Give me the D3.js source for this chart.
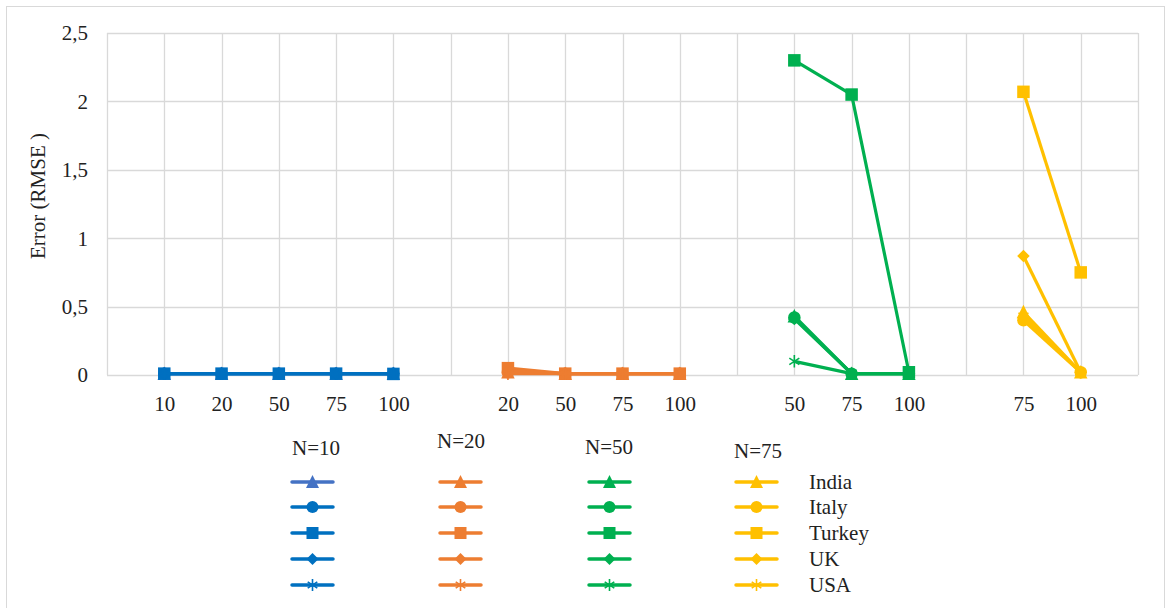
<!DOCTYPE html>
<html><head><meta charset="utf-8">
<script src="https://cdn.jsdelivr.net/npm/d3@7"></script>
<style>body{margin:0;background:#fff}svg{display:block}
svg text{font-family:"Liberation Serif","Times New Roman",Times,Tinos,"Nimbus Roman","DejaVu Serif",serif !important;fill:#222}</style>
</head><body><svg id="c" width="1171" height="608"></svg>
<script>
// category axis (blank entries separate the groups)
const categories = ["", "10","20","50","75","100","", "20","50","75","100","", "50","75","100","", "75","100",""];
const yTicks = [0, 0.5, 1, 1.5, 2, 2.5];
const yTickLabels = ["0","0,5","1","1,5","2","2,5"];
const groups = ["N=10","N=20","N=50","N=75"];
const groupStart = [1, 7, 12, 16];
const countries = ["India","Italy","Turkey","UK","USA"];
const colors = ["#0070C0","#ED7D31","#00B050","#FFC000"];
const indiaN10Color = "#4472C4";
const shapes = ["triangle","circle","square","diamond","asterisk"];

// values per country for each N group, one per x point of the group
const n10 = {India:[0.01,0.01,0.01,0.01,0.01], Italy:[0.01,0.01,0.01,0.01,0.01], Turkey:[0.01,0.01,0.01,0.01,0.008], UK:[0.01,0.01,0.01,0.01,0.01], USA:[0.01,0.01,0.01,0.01,0.01]};
const n20 = {India:[0.02,0.01,0.01,0.01], Italy:[0.02,0.01,0.01,0.01], Turkey:[0.05,0.01,0.01,0.01], UK:[0.03,0.01,0.01,0.01], USA:[0.01,0.01,0.01,0.01]};
const n50 = {India:[0.43,0.01,0.01], Italy:[0.42,0.01,0.01], Turkey:[2.30,2.05,0.02], UK:[0.41,0.01,0.01], USA:[0.10,0.01,0.01]};
const n75 = {India:[0.46,0.02], Italy:[0.40,0.02], Turkey:[2.07,0.75], UK:[0.87,0.02], USA:[0.43,0.02]};
const groupData = [n10, n20, n50, n75];

const FONT = '"Liberation Serif","Times New Roman",Times,serif';
const svg = d3.select("#c");
svg.append("rect").attr("x",6.5).attr("y",6.5).attr("width",1158).attr("height",620)
  .attr("fill","#fff").attr("stroke","#d9d9d9").attr("stroke-width",1);

const x = d3.scalePoint().domain(d3.range(categories.length)).range([107, 1138]);
const y = d3.scaleLinear().domain([0, 2.5]).range([375, 33]);

// gridlines
const grid = svg.append("g");
grid.selectAll("line.h").data(yTicks).join("line").attr("class","h")
  .attr("x1",107).attr("x2",1138).attr("y1",d=>Math.round(y(d))+0.5).attr("y2",d=>Math.round(y(d))+0.5)
  .attr("stroke","#d9d9d9").attr("stroke-width",1.3);
grid.selectAll("line.v").data(d3.range(categories.length)).join("line").attr("class","v")
  .attr("x1",d=>Math.round(x(d))+0.5).attr("x2",d=>Math.round(x(d))+0.5).attr("y1",33).attr("y2",375)
  .attr("stroke","#d9d9d9").attr("stroke-width",1.3);

// y axis labels
const yAxis = d3.axisLeft(y).tickValues(yTicks).tickFormat((d,i)=>yTickLabels[i]).tickSize(0).tickPadding(0);
const ya = svg.append("g").attr("transform","translate(88,0)").call(yAxis).attr("font-family",FONT);
ya.select(".domain").remove();
ya.selectAll("text").attr("font-size",21).attr("fill","#222").attr("dy","0.33em");

// x axis labels
const xAxis = d3.axisBottom(x).tickFormat(i=>categories[i]).tickSize(0).tickPadding(0);
const xa = svg.append("g").attr("transform","translate(0,375)").call(xAxis).attr("font-family",FONT);
xa.select(".domain").remove();
xa.selectAll("text").attr("font-size",21).attr("fill","#222").attr("dy",null).attr("y",36);

// y title
svg.append("text").attr("transform","translate(45,196) rotate(-90)").attr("text-anchor","middle")
  .attr("font-family",FONT).attr("font-size",21).text("Error (RMSE )");

function marker(g, shape, cx, cy, color, s){
  if(shape==="square") g.append("rect").attr("x",cx-s/2).attr("y",cy-s/2).attr("width",s).attr("height",s).attr("fill",color);
  else if(shape==="circle") g.append("circle").attr("cx",cx).attr("cy",cy).attr("r",s/2).attr("fill",color);
  else if(shape==="triangle") g.append("path").attr("d",`M${cx},${cy-s/2-1}L${cx+s/2+0.5},${cy+s/2}L${cx-s/2-0.5},${cy+s/2}Z`).attr("fill",color);
  else if(shape==="diamond"){ const r=s/2; g.append("path").attr("d",`M${cx},${cy-r}L${cx+r},${cy}L${cx},${cy+r}L${cx-r},${cy}Z`).attr("fill",color);}
  else if(shape==="asterisk"){ const r=s/2; const d=r*0.8;
    g.append("path").attr("d",`M${cx},${cy-r}L${cx},${cy+r}M${cx-d},${cy-d*0.65}L${cx+d},${cy+d*0.65}M${cx-d},${cy+d*0.65}L${cx+d},${cy-d*0.65}`)
     .attr("stroke",color).attr("stroke-width",1.6).attr("fill","none");}
}

const line = d3.line().x(d=>x(d.i)).y(d=>y(d.v));
const plot = svg.append("g");
countries.forEach((c,ci)=>{
  groups.forEach((gname,gi)=>{
    const vals = groupData[gi][c];
    const pts = vals.map((v,k)=>({i:groupStart[gi]+k, v}));
    const col = (gi===0 && c==="India") ? indiaN10Color : colors[gi];
    const g = plot.append("g");
    g.append("path").datum(pts).attr("d",line).attr("fill","none").attr("stroke",col)
      .attr("stroke-width",3.2).attr("stroke-linejoin","round");
    pts.forEach(p=>marker(g, shapes[ci], x(p.i), y(p.v), col, 12.5));
  });
});

// legend
const legCols = [292, 440, 589, 736];
const legRows = [482, 507, 533, 559, 585];
const headerPos = [[292,448],[437,441],[585,447],[734,451]];
const leg = svg.append("g").attr("font-family",FONT);
groups.forEach((gname,gi)=>{
  leg.append("text").attr("x",headerPos[gi][0]).attr("y",headerPos[gi][1]).attr("dy","0.35em")
    .attr("font-size",21).text(gname);
  countries.forEach((c,ci)=>{
    const col = (gi===0 && c==="India") ? indiaN10Color : colors[gi];
    const x0 = legCols[gi], yy = legRows[ci];
    leg.append("line").attr("x1",x0).attr("x2",x0+41).attr("y1",yy).attr("y2",yy)
      .attr("stroke",col).attr("stroke-width",3.5).attr("stroke-linecap","round");
    marker(leg, shapes[ci], x0+20.5, yy, col, 12);
  });
});
countries.forEach((c,ci)=>{
  leg.append("text").attr("x",809).attr("y",legRows[ci]).attr("dy","0.35em").attr("font-size",21).text(c);
});
</script></body></html>
